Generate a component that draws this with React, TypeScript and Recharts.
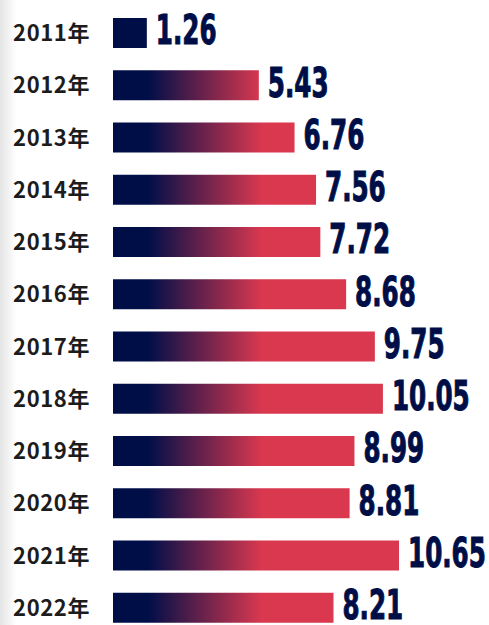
import React from "react";
import { BarChart, Bar, XAxis, YAxis, LabelList } from "recharts";

const years = ["2011年", "2012年", "2013年", "2014年", "2015年", "2016年", "2017年", "2018年", "2019年", "2020年", "2021年", "2022年"];
const values = [1.26, 5.43, 6.76, 7.56, 7.72, 8.68, 9.75, 10.05, 8.99, 8.81, 10.65, 8.21];
const labels = ["1.26", "5.43", "6.76", "7.56", "7.72", "8.68", "9.75", "10.05", "8.99", "8.81", "10.65", "8.21"];

const data = years.map((y, i) => ({ year: y, value: values[i], label: labels[i] }));

const NAVY = "#000e48";
const RED = "#da384f";

const ValueLabel = (props: any) => {
  const { x, y, width, height, value } = props;
  const tx = Number(x) + Number(width) + 9;
  const ty = Number(y) + Number(height) / 2;
  return (
    <g transform={`translate(${tx},${ty}) scale(0.76,1.12)`}>
      <text
        x={0}
        y={0}
        dy="0.28em"
        fill={NAVY}
        stroke={NAVY}
        strokeWidth={0.9}
        fontFamily='"DejaVu Sans Condensed", "Liberation Sans Narrow", sans-serif'
        fontWeight={700}
        fontSize={36}
        textAnchor="start"
      >
        {value}
      </text>
    </g>
  );
};

const YearTick = (props: any) => {
  const { x, y, payload } = props;
  return (
    <text
      x={x}
      y={y}
      dy="0.36em"
      textAnchor="end"
      fill="#1c1c1c"
      fontFamily='"Noto Sans CJK SC", "Noto Sans", sans-serif'
      fontWeight={700}
      fontSize={22}
      letterSpacing={0.6}
    >
      {payload.value}
    </text>
  );
};

export default function App() {
  return (
    <div
      style={{
        position: "absolute",
        left: 0,
        top: 0,
        width: 489,
        height: 625,
        overflow: "hidden",
        background: "linear-gradient(to right, #e4e4e4 0px, #ffffff 16px)",
      }}
    >
      <BarChart
        width={489}
        height={641}
        data={data}
        layout="vertical"
        margin={{ top: 7, right: 0, bottom: 7, left: 0 }}
        barCategoryGap={22}
      >
        <defs>
          <linearGradient id="barGrad" gradientUnits="userSpaceOnUse" x1={148} y1={0} x2={262} y2={0}>
            <stop offset="0%" stopColor={NAVY} />
            <stop offset="100%" stopColor={RED} />
          </linearGradient>
        </defs>
        <XAxis type="number" domain={[0, 14]} hide />
        <YAxis
          type="category"
          dataKey="year"
          width={113}
          axisLine={false}
          tickLine={false}
          tickMargin={17}
          tick={<YearTick />}
          interval={0}
        />
        <Bar dataKey="value" fill="url(#barGrad)" barSize={30} isAnimationActive={false}>
          <LabelList dataKey="label" content={<ValueLabel />} />
        </Bar>
      </BarChart>
    </div>
  );
}
